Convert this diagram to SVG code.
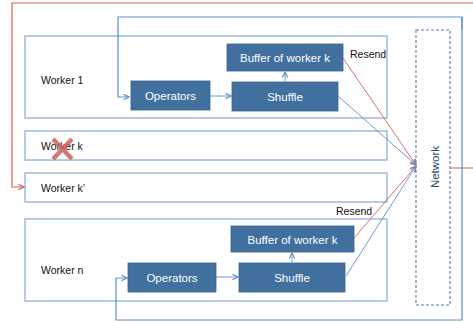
<svg xmlns="http://www.w3.org/2000/svg" width="473" height="323" viewBox="0 0 473 323">
<defs>
<style>
.worker{fill:#fff;stroke:#8eb0dc;stroke-width:1.3}
.box{fill:#41709f;stroke:#37618c;stroke-width:0.8}
.lbl{font-family:"Liberation Sans",Arial,sans-serif;font-size:10.5px;fill:#111}
.wt{font-family:"Liberation Sans",Arial,sans-serif;font-size:11.5px;fill:#fff;text-anchor:middle}
.blue{fill:none;stroke:#5b8fcb;stroke-width:1.2}
.bluet{fill:none;stroke:#5b8fcb;stroke-width:0.9}
.red{fill:none;stroke:#d0605a;stroke-width:1.2}
.redt{fill:none;stroke:#d0605a;stroke-width:0.9}
</style>
<marker id="ab" viewBox="0 0 10 10" refX="9" refY="5" markerWidth="7" markerHeight="7" orient="auto" markerUnits="userSpaceOnUse"><path d="M1,1 L9,5 L1,9" fill="none" stroke="#5b8fcb" stroke-width="1.6"/></marker>
<marker id="ar" viewBox="0 0 10 10" refX="9" refY="5" markerWidth="7" markerHeight="7" orient="auto" markerUnits="userSpaceOnUse"><path d="M1,1 L9,5 L1,9" fill="none" stroke="#d0605a" stroke-width="1.6"/></marker>
</defs>
<rect width="473" height="323" fill="#fff"/>
<g id="worker1">
<rect class="worker" x="25" y="36" width="362" height="82"/>
<text class="lbl" x="41" y="84">Worker 1</text>
</g>
<g id="workerk">
<rect class="worker" x="25" y="131" width="362" height="29"/>
<text class="lbl" x="41" y="150">Worker k</text>
</g>
<g id="workerk2">
<rect class="worker" x="25" y="173" width="362" height="29"/>
<text class="lbl" x="41" y="192">Worker k’</text>
</g>
<g id="workern">
<rect class="worker" x="25" y="219" width="362" height="82"/>
<text class="lbl" x="41" y="274">Worker n</text>
</g>
<g id="network">
<rect x="416" y="30" width="34" height="275" fill="#fff" stroke="#4f7fb5" stroke-width="1.1" stroke-dasharray="3,2"/>
<text x="439" y="167" transform="rotate(-90 439 167)" text-anchor="middle" font-family="'Liberation Sans',Arial,sans-serif" font-size="11.5" fill="#2a4a70">Network</text>
</g>
<g id="ops1"><rect class="box" x="131" y="81" width="79" height="29"/><text class="wt" x="170.5" y="100">Operators</text></g>
<g id="shuffle1"><rect class="box" x="232" y="82" width="106" height="29"/><text class="wt" x="285" y="101">Shuffle</text></g>
<g id="buffer1"><rect class="box" x="227" y="44" width="116" height="27"/><text class="wt" x="285" y="62">Buffer of worker k</text></g>
<g id="opsn"><rect class="box" x="128" y="263" width="88" height="29"/><text class="wt" x="172" y="282">Operators</text></g>
<g id="shufflen"><rect class="box" x="239" y="263" width="106" height="29"/><text class="wt" x="292" y="282">Shuffle</text></g>
<g id="buffern"><rect class="box" x="231" y="226" width="123" height="26"/><text class="wt" x="292.5" y="243.5">Buffer of worker k</text></g>
<g id="fail">
<path d="M53,139 L72,159 M72,139 L53,159" stroke="#d0605a" stroke-width="4.5" stroke-linecap="butt" opacity="0.85"/>
</g>
<g id="connectors">
<path class="red" d="M450,168 H480 V3 H12 V187 H24" marker-end="url(#ar)"/>
<path class="blue" d="M462,30 V17 H118 V97 H129" marker-end="url(#ab)"/>
<path class="blue" d="M462,17 V320 H116 V278 H127" marker-end="url(#ab)"/>
<path class="bluet" d="M210,96 H231" marker-end="url(#ab)"/>
<path class="bluet" d="M285,82 V72" marker-end="url(#ab)"/>
<path class="bluet" d="M216,277 H238" marker-end="url(#ab)"/>
<path class="bluet" d="M292,263 V253" marker-end="url(#ab)"/>
<path class="redt" d="M343,58 L416,165" marker-end="url(#ar)"/>
<path class="bluet" d="M338,96 L416,165" marker-end="url(#ab)"/>
<path class="redt" d="M354,238 L416,166" marker-end="url(#ar)"/>
<path class="bluet" d="M346,276 L416,166" marker-end="url(#ab)"/>
<text class="lbl" x="350" y="58">Resend</text>
<text class="lbl" x="336" y="215">Resend</text>
</g>
</svg>
